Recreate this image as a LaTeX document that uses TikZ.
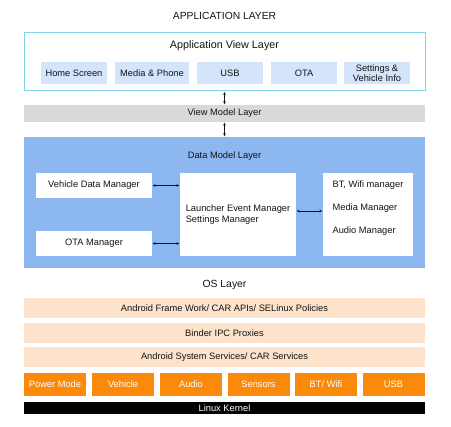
\documentclass[tikz,border=0pt]{standalone}
\usepackage{fontspec}
\setmainfont{Liberation Sans}
\usetikzlibrary{arrows.meta}
\definecolor{cyanb}{HTML}{7FD6E8}
\definecolor{appbox}{HTML}{D4E4FB}
\definecolor{vmgray}{HTML}{D9D9D9}
\definecolor{dmblue}{HTML}{8DB8EF}
\definecolor{peach}{HTML}{FDE3CB}
\definecolor{orng}{HTML}{FB8A0A}
\definecolor{txt}{HTML}{141414}
\tikzset{
  bx/.style 2 args={inner sep=0pt, minimum width=#1pt, minimum height=#2pt, text=txt, font=\fontsize{9.3}{10.8}\selectfont},
  ttl/.style={inner sep=0pt, text=txt, font=\fontsize{10.3}{12}\selectfont},
  appb/.style={bx={66}{22}, fill=appbox},
  band/.style={bx={401}{20}, fill=peach},
  obox/.style={bx={62}{23}, fill=orng, text=white},
  conn/.style={line width=0.6pt, draw=txt, {Stealth[length=3pt,width=2.6pt]}-{Stealth[length=3pt,width=2.6pt]}, shorten >=0.5pt, shorten <=0.5pt},
}
\begin{document}
\begin{tikzpicture}[x=1pt,y=-1pt]
\useasboundingbox (0,0) rectangle (451,427);
% Application layer
\node[ttl] (apptitle) at (224.5,16) {APPLICATION LAYER};
\node[bx={401}{58}, draw=cyanb, line width=1pt] (appview) at (224.5,62) {};
\node[ttl, font=\fontsize{10.8}{12}\selectfont] (appviewt) at (224.5,46) {Application View Layer};
\node[appb] (home) at (74,73) {Home Screen};
\node[appb, minimum width=74pt] (media) at (152,73) {Media \& Phone};
\node[appb] (usb) at (230,73) {USB};
\node[appb] (ota) at (304,73) {OTA};
\node[appb, align=center, font=\fontsize{9.3}{10.5}\selectfont] (settings) at (377,73) {Settings \&\\Vehicle Info};
% View model
\node[bx={401}{17}, fill=vmgray] (viewmodel) at (224.5,113.5) {View Model Layer};
% Data model
\node[bx={401}{131}, fill=dmblue] (datamodel) at (224.5,202.5) {};
\node[ttl, font=\fontsize{9.3}{11}\selectfont] (dmt) at (224.5,156) {Data Model Layer};
\node[bx={116}{25}, fill=white] (vdm) at (94,185.5) {Vehicle Data Manager};
\node[bx={116}{25}, fill=white] (otam) at (94,243.5) {OTA Manager};
\node[bx={116}{83}, fill=white, align=left] (launcher) at (238,214.5) {Launcher Event Manager\\Settings Manager};
\node[bx={90}{83}, fill=white] (rbox) at (368,214.5) {};
\node[bx={10}{10}, align=left, font=\fontsize{9.3}{23}\selectfont] (rtext) at (368,208) {BT, Wifi manager\\Media Manager\\Audio Manager};
% connectors
\draw[conn] (appview.south) -- (viewmodel.north);
\draw[conn] (viewmodel.south) -- (datamodel.north);
\draw[conn] (vdm.east) -- (vdm.east -| launcher.west);
\draw[conn] (otam.east) -- (otam.east -| launcher.west);
\draw[conn] ([yshift=3.5pt]launcher.east) -- ([yshift=3.5pt]launcher.east -| rbox.west);
% OS layer
\node[ttl, font=\fontsize{10.4}{12}\selectfont] (ost) at (224.5,285) {OS Layer};
\node[band] (fw) at (224.5,308) {Android Frame Work/ CAR APIs/ SELinux Policies};
\node[band] (binder) at (224.5,333) {Binder IPC Proxies};
\node[band] (sys) at (224.5,357) {Android System Services/ CAR Services};
\node[obox] (pm) at (55,384.5) {Power Mode};
\node[obox] (veh) at (123,384.5) {Vehicle};
\node[obox] (aud) at (191,384.5) {Audio};
\node[obox] (sens) at (258.5,384.5) {Sensors};
\node[obox] (bt) at (326,384.5) {BT/ Wifi};
\node[obox] (usbo) at (393.5,384.5) {USB};
\node[bx={401}{12}, fill=black, text=white] (kernel) at (224.5,408) {Linux Kernel};
\end{tikzpicture}
\end{document}
